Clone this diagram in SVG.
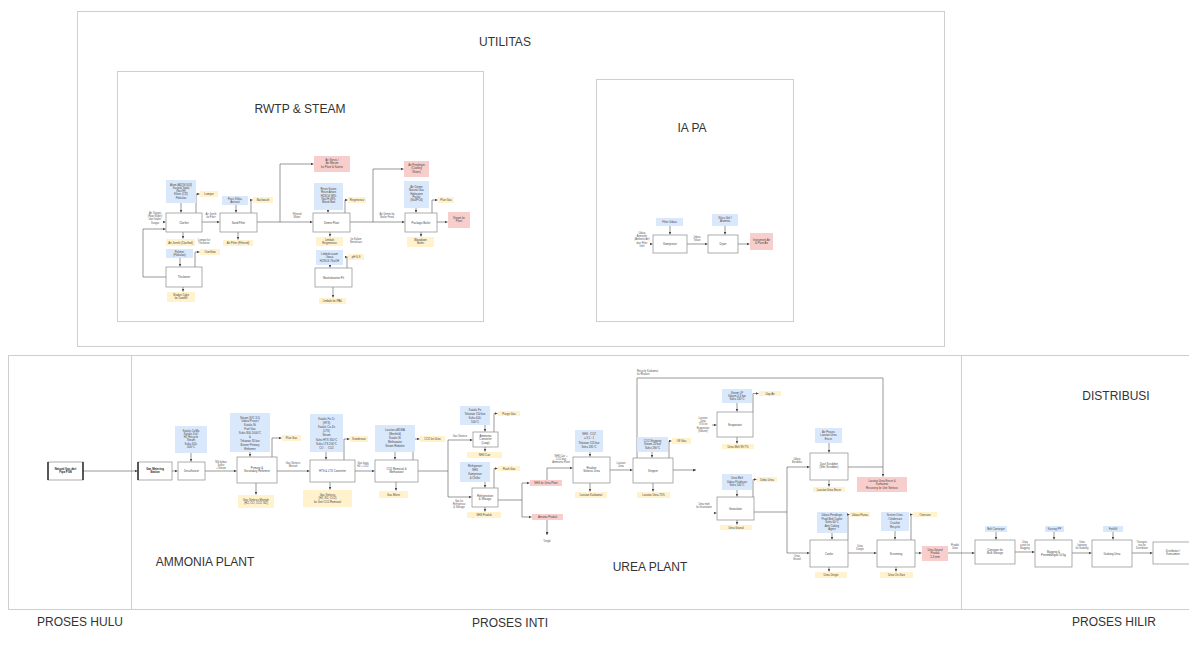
<svg xmlns="http://www.w3.org/2000/svg" width="1189" height="655" viewBox="0 0 1189 655">
<style>
.bg{fill:#ffffff}
.frame{fill:none;stroke:#cfcfcf;stroke-width:1}
.box{fill:#ffffff;stroke:#8a8a8a;stroke-width:0.7}
.blue{fill:#dae8fc;stroke:none}
.yel{fill:#fff2cc;stroke:none}
.red{fill:#f8cecc;stroke:none}
.bar{stroke:#222;stroke-width:1.4}
.title{font-family:"Liberation Sans",Arial,sans-serif;font-size:12px;fill:#333;text-anchor:middle}
.t{font-family:"Liberation Sans",Arial,sans-serif;font-size:2.8px;fill:#444;text-anchor:middle}
.tb{font-family:"Liberation Sans",Arial,sans-serif;font-size:2.8px;fill:#222;font-weight:bold;text-anchor:middle}
.lab{font-family:"Liberation Sans",Arial,sans-serif;font-size:2.6px;fill:#555;text-anchor:middle}
.c{fill:none;stroke:#555;stroke-width:0.6}
.ca{fill:none;stroke:#555;stroke-width:0.6;marker-end:url(#ah)}
</style>
<defs>
<marker id="ah" viewBox="0 0 6 6" refX="6" refY="3" markerWidth="3" markerHeight="3" orient="auto" markerUnits="userSpaceOnUse"><path d="M0,0 L6,3 L0,6 z" fill="#444"/></marker>
</defs>
<rect class="bg" x="0" y="0" width="1189" height="655"/>

<g id="frames">
<rect class="frame" x="77.5" y="11.5" width="867" height="335"/>
<rect class="frame" x="117.5" y="71.5" width="366" height="250"/>
<rect class="frame" x="596.5" y="79.5" width="197" height="242"/>
<rect class="frame" x="8.5" y="355.5" width="1190" height="254"/>
<line class="frame" x1="131.5" y1="355.5" x2="131.5" y2="609.5"/>
<line class="frame" x1="961.5" y1="355.5" x2="961.5" y2="609.5"/>
</g>

<g id="titles">
<text class="title" x="505" y="46">UTILITAS</text>
<text class="title" x="300" y="113">RWTP &amp; STEAM</text>
<text class="title" x="692" y="132">IA PA</text>
<text class="title" x="1116" y="400">DISTRIBUSI</text>
<text class="title" x="205" y="566">AMMONIA PLANT</text>
<text class="title" x="650" y="571">UREA PLANT</text>
<text class="title" x="80" y="626">PROSES HULU</text>
<text class="title" x="510" y="627">PROSES INTI</text>
<text class="title" x="1114" y="626">PROSES HILIR</text>
</g>

<g id="connectors">
<!-- RWTP -->
<path class="ca" d="M166,277 H143 V229 H165.5"/>
<path class="ca" d="M163,222 H165.5"/>
<path class="ca" d="M181,203 V212.5"/>
<path class="ca" d="M196,213 V194 H199.5"/>
<path class="ca" d="M183,232 V238.5"/>
<path class="ca" d="M202,222 H219.5"/>
<path class="ca" d="M236,205 V212.5"/>
<path class="ca" d="M251,213 V200 H252.5"/>
<path class="ca" d="M238,232 V239.5"/>
<path class="ca" d="M180,258 V266.5"/>
<path class="ca" d="M195,267 V252 H199.5"/>
<path class="ca" d="M183,287 V291.5"/>
<path class="ca" d="M257,222 H312.5"/>
<path class="ca" d="M280,222 V164 H313.5"/>
<path class="ca" d="M328,210 V212.5"/>
<path class="ca" d="M345,213 V200 H347.5"/>
<path class="ca" d="M330,232 V236.5"/>
<path class="ca" d="M330,265 V267.5"/>
<path class="ca" d="M347,268 V257 H347.5"/>
<path class="ca" d="M333,287 V297.5"/>
<path class="ca" d="M350,222 H404.5"/>
<path class="ca" d="M373,222 V169 H403.5"/>
<path class="ca" d="M416,208 V212.5"/>
<path class="ca" d="M432,213 V200 H437.5"/>
<path class="ca" d="M437,222 H447.5"/>
<path class="ca" d="M421,232 V236.5"/>
<!-- IA PA -->
<path class="ca" d="M650,244 H652.5"/>
<path class="ca" d="M670,226 V234.5"/>
<path class="ca" d="M687,244 H707.5"/>
<path class="ca" d="M725,226 V234.5"/>
<path class="ca" d="M738,244 H749.5"/>
<!-- Ammonia -->
<path class="ca" d="M83,471 H137.5"/>
<path class="ca" d="M172,471 H177.5"/>
<path class="ca" d="M191,453 V461.5"/>
<path class="ca" d="M205,471 H236.5"/>
<path class="ca" d="M250,452 V456.5"/>
<path class="ca" d="M272,457 V438 H281.5"/>
<path class="ca" d="M256,483 V494.5"/>
<path class="ca" d="M277,471 H309.5"/>
<path class="ca" d="M326,452 V459.5"/>
<path class="ca" d="M344,460 V439 H349.5"/>
<path class="ca" d="M330,482 V489.5"/>
<path class="ca" d="M355,471 H374.5"/>
<path class="ca" d="M395,452 V459.5"/>
<path class="ca" d="M413,460 V439 H419.5"/>
<path class="ca" d="M396,482 V490.5"/>
<path class="c" d="M418,471 H448"/>
<path class="ca" d="M448,471 V440 H472.5"/>
<path class="ca" d="M448,471 V497 H471.5"/>
<!-- Urea -->
<path class="ca" d="M485,425 V431.5"/>
<path class="ca" d="M494,432 V413.5 H497.5"/>
<path class="ca" d="M485,447 V451.5"/>
<path class="ca" d="M485,482 V487.5"/>
<path class="ca" d="M494,488 V468.5 H497.5"/>
<path class="ca" d="M485,507 V511.5"/>
<path class="ca" d="M498,500 H522 V483 H529.5"/>
<path class="ca" d="M522,500 V517 H531.5"/>
<path class="ca" d="M547,520 V535"/>
<path class="ca" d="M547,480 V468 H572.5"/>
<path class="ca" d="M590,452 V456.5"/>
<path class="ca" d="M590,483 V491.5"/>
<path class="ca" d="M610,470 H632.5"/>
<path class="ca" d="M652,452 V457.5"/>
<path class="ca" d="M669,458 V441 H671.5"/>
<path class="ca" d="M653,483 V491.5"/>
<path class="ca" d="M637,458 V378 H883 V476.5"/>
<path class="ca" d="M673,470 H696"/>
<path class="ca" d="M712,425 H716.5"/>
<path class="ca" d="M737,403 V411.5"/>
<path class="ca" d="M753,412 V393.5 H758.5"/>
<path class="ca" d="M737,437 V443.5"/>
<path class="ca" d="M714,513 H716.5"/>
<path class="ca" d="M737,490 V496.5"/>
<path class="ca" d="M753,497 V479.5 H756.5"/>
<path class="ca" d="M737,520 V524.5"/>
<path class="c" d="M754,512 H787"/>
<path class="c" d="M787,467 V553"/>
<path class="ca" d="M787,467 H809.5"/>
<path class="ca" d="M787,553 H809.5"/>
<path class="ca" d="M829,443 V452.5"/>
<path class="ca" d="M829,480 V486.5"/>
<path class="c" d="M848,467 H883"/>
<path class="ca" d="M832,533 V539.5"/>
<path class="ca" d="M848,540 V514.5 H849.5"/>
<path class="ca" d="M829,567 V571.5"/>
<path class="ca" d="M848,553 H876.5"/>
<path class="ca" d="M895,531 V539.5"/>
<path class="ca" d="M911,540 V514.5 H912.5"/>
<path class="ca" d="M896,567 V571.5"/>
<path class="ca" d="M915,553 H921.5"/>
<path class="ca" d="M948,553 H974.5"/>
<!-- Distribusi -->
<path class="ca" d="M996,532 V539.5"/>
<path class="ca" d="M1015,552 H1034.5"/>
<path class="ca" d="M1054,532 V539.5"/>
<path class="ca" d="M1072,553 H1091.5"/>
<path class="ca" d="M1113,532 V539.5"/>
<path class="ca" d="M1132,553 H1152.5"/>
</g>

<g id="edge-labels">
<text class="lab" x="155" y="214"><tspan x="155">Air Sungai</tspan><tspan x="155" dy="3.2">(Raw Water)</tspan><tspan x="155" dy="3.2">dari Intake</tspan><tspan x="155" dy="3.2">Sungai</tspan></text>
<text class="lab" x="211" y="215"><tspan x="211">Air Jernih</tspan><tspan x="211" dy="3.2">ke Filter</tspan></text>
<text class="lab" x="204" y="240.5"><tspan x="204">Lumpur ke</tspan><tspan x="204" dy="3.2">Thickener</tspan></text>
<text class="lab" x="297" y="214.5"><tspan x="297">Filtered</tspan><tspan x="297" dy="3.2">Water</tspan></text>
<text class="lab" x="356" y="240"><tspan x="356">ke Kolam</tspan><tspan x="356" dy="3.2">Netralisasi</tspan></text>
<text class="lab" x="387" y="214.5"><tspan x="387">Air Demin ke</tspan><tspan x="387" dy="3.2">Boiler Feed</tspan></text>
<text class="lab" x="642" y="234"><tspan x="642">Udara</tspan><tspan x="642" dy="3.2">Atmosfer</tspan><tspan x="642" dy="3.2">(Ambient Air)</tspan><tspan x="642" dy="3.2">dari Filter</tspan><tspan x="642" dy="3.2">Inlet</tspan></text>
<text class="lab" x="697" y="237.5"><tspan x="697">Udara</tspan><tspan x="697" dy="3.2">Tekan</tspan></text>
<text class="lab" x="221" y="463"><tspan x="221">NG bebas</tspan><tspan x="221" dy="3.2">Sulfur</tspan><tspan x="221" dy="3.2">+ Steam</tspan></text>
<text class="lab" x="293" y="464"><tspan x="293">Gas Sintesis</tspan><tspan x="293" dy="3.2">Mentah</tspan></text>
<text class="lab" x="363" y="464"><tspan x="363">Gas kaya</tspan><tspan x="363" dy="3.2">H2 + CO2</tspan></text>
<text class="lab" x="460" y="437">Gas Sintesis</text>
<text class="lab" x="459" y="502"><tspan x="459">Gas ke</tspan><tspan x="459" dy="3.2">Refrigerasi</tspan><tspan x="459" dy="3.2">&amp; Storage</tspan></text>
<text class="lab" x="547" y="542">Tangki</text>
<text class="lab" x="561" y="457"><tspan x="561">NH3 Cair +</tspan><tspan x="561" dy="3.2">CO2 dari</tspan><tspan x="561" dy="3.2">Ammonia Plant</tspan></text>
<text class="lab" x="621" y="464"><tspan x="621">Larutan</tspan><tspan x="621" dy="3.2">Urea</tspan></text>
<text class="lab" x="637" y="371.5" style="text-anchor:start"><tspan x="637">Recycle Karbamat</tspan><tspan x="637" dy="3.2">ke Reaktor</tspan></text>
<text class="lab" x="703" y="419"><tspan x="703">Larutan</tspan><tspan x="703" dy="3.2">Urea</tspan><tspan x="703" dy="3.2">75% ke</tspan><tspan x="703" dy="3.2">Evaporator</tspan><tspan x="703" dy="3.2">(Vakum)</tspan></text>
<text class="lab" x="704" y="505"><tspan x="704">Urea melt</tspan><tspan x="704" dy="3.2">ke Granulator</tspan></text>
<text class="lab" x="797" y="460"><tspan x="797">Udara</tspan><tspan x="797" dy="3.2">Berdebu</tspan></text>
<text class="lab" x="797" y="557"><tspan x="797">Urea</tspan><tspan x="797" dy="3.2">Granul</tspan></text>
<text class="lab" x="860" y="547"><tspan x="860">Urea</tspan><tspan x="860" dy="3.2">Dingin</tspan></text>
<text class="lab" x="955" y="546"><tspan x="955">Produk</tspan><tspan x="955" dy="3.2">Urea</tspan></text>
<text class="lab" x="1025" y="543"><tspan x="1025">Urea</tspan><tspan x="1025" dy="3.2">curah ke</tspan><tspan x="1025" dy="3.2">Bagging</tspan></text>
<text class="lab" x="1082" y="543"><tspan x="1082">Urea</tspan><tspan x="1082" dy="3.2">kantong</tspan><tspan x="1082" dy="3.2">ke Gudang</tspan></text>
<text class="lab" x="1142" y="543"><tspan x="1142">Transpor-</tspan><tspan x="1142" dy="3.2">tasi ke</tspan><tspan x="1142" dy="3.2">Distributor</tspan></text>
</g>

<!-- RWTP nodes -->
<g id="rwtp-clarifier"><rect class="box" x="166" y="213" width="36" height="19"/><text class="t" x="184" y="223.5">Clarifier</text></g>
<g id="rwtp-clarifier-in"><rect class="blue" x="166" y="180" width="30" height="23"/><text class="t" x="181" y="185.5"><tspan x="181">Alum (Al2(SO4)3)</tspan><tspan x="181" dy="3.3">Kaustik Soda</tspan><tspan x="181" dy="3.3">(NaOH)</tspan><tspan x="181" dy="3.3">Klorin (Cl2)</tspan><tspan x="181" dy="3.3">Flokulan</tspan></text></g>
<g id="rwtp-clarifier-side"><rect class="yel" x="200" y="191" width="18" height="6"/><text class="t" x="209" y="195">Lumpur</text></g>
<g id="rwtp-clarifier-out"><rect class="yel" x="166" y="239" width="29" height="7"/><text class="t" x="180.5" y="243.5">Air Jernih (Clarified)</text></g>
<g id="rwtp-filter"><rect class="box" x="220" y="213" width="37" height="19"/><text class="t" x="238.5" y="223.5">Sand Filter</text></g>
<g id="rwtp-filter-in"><rect class="blue" x="222" y="196" width="26" height="9"/><text class="t" x="235" y="199.8"><tspan x="235">Pasir Silika,</tspan><tspan x="235" dy="3.3">Antrasit</tspan></text></g>
<g id="rwtp-filter-side"><rect class="yel" x="253" y="197" width="20" height="6"/><text class="t" x="263" y="201">Backwash</text></g>
<g id="rwtp-filter-out"><rect class="yel" x="223" y="240" width="30" height="6"/><text class="t" x="238" y="244">Air Filter (Filtered)</text></g>
<g id="rwtp-thickener-in"><rect class="blue" x="166" y="249" width="27" height="9"/><text class="t" x="179.5" y="252.8"><tspan x="179.5">Polimer</tspan><tspan x="179.5" dy="3.3">(Flokulan)</tspan></text></g>
<g id="rwtp-thickener-side"><rect class="yel" x="200" y="249" width="20" height="6"/><text class="t" x="210" y="253">Overflow</text></g>
<g id="rwtp-thickener"><rect class="box" x="166" y="267" width="36" height="20"/><text class="t" x="184" y="278">Thickener</text></g>
<g id="rwtp-thickener-out"><rect class="yel" x="167" y="292" width="28" height="10"/><text class="t" x="181" y="296"><tspan x="181">Sludge Cake</tspan><tspan x="181" dy="3.3">ke Landfill</tspan></text></g>
<g id="rwtp-service"><rect class="red" x="314" y="156" width="36" height="16"/><text class="t" x="332" y="161"><tspan x="332">Air Servis /</tspan><tspan x="332" dy="3.3">Air Minum</tspan><tspan x="332" dy="3.3">ke Plant &amp; Kantor</tspan></text></g>
<g id="rwtp-demin-in"><rect class="blue" x="314" y="183" width="29" height="27"/><text class="t" x="328.5" y="190"><tspan x="328.5">Resin Kation</tspan><tspan x="328.5" dy="3.3">Resin Anion</tspan><tspan x="328.5" dy="3.3">H2SO4 98%</tspan><tspan x="328.5" dy="3.3">NaOH 48%</tspan><tspan x="328.5" dy="3.3">Mixed Bed</tspan></text></g>
<g id="rwtp-demin-side"><rect class="yel" x="348" y="197" width="18" height="6"/><text class="t" x="357" y="201">Regenerasi</text></g>
<g id="rwtp-demin"><rect class="box" x="313" y="213" width="37" height="19"/><text class="t" x="331.5" y="223.5">Demin Plant</text></g>
<g id="rwtp-demin-out"><rect class="yel" x="316" y="237" width="27" height="9"/><text class="t" x="329.5" y="240.8"><tspan x="329.5">Limbah</tspan><tspan x="329.5" dy="3.3">Regenerasi</tspan></text></g>
<g id="rwtp-neutral-in"><rect class="blue" x="316" y="250" width="27" height="15"/><text class="t" x="329.5" y="255"><tspan x="329.5">Limbah asam</tspan><tspan x="329.5" dy="3.3">/ basa</tspan><tspan x="329.5" dy="3.3">H2SO4 / NaOH</tspan></text></g>
<g id="rwtp-neutral-side"><rect class="yel" x="348" y="254" width="16" height="6"/><text class="t" x="356" y="258">pH 6-9</text></g>
<g id="rwtp-neutral"><rect class="box" x="315" y="268" width="37" height="19"/><text class="t" x="333.5" y="278.5">Neutralization Pit</text></g>
<g id="rwtp-neutral-out"><rect class="yel" x="319" y="298" width="27" height="6"/><text class="t" x="332.5" y="302">Limbah ke IPAL</text></g>
<g id="rwtp-cooling"><rect class="red" x="404" y="161" width="25" height="16"/><text class="t" x="416.5" y="166"><tspan x="416.5">Air Pendingin</tspan><tspan x="416.5" dy="3.3">(Cooling</tspan><tspan x="416.5" dy="3.3">Water)</tspan></text></g>
<g id="rwtp-boiler-in"><rect class="blue" x="404" y="181" width="25" height="27"/><text class="t" x="416.5" y="188"><tspan x="416.5">Air Demin</tspan><tspan x="416.5" dy="3.3">Natural Gas</tspan><tspan x="416.5" dy="3.3">Hydrazine</tspan><tspan x="416.5" dy="3.3">Fosfat</tspan><tspan x="416.5" dy="3.3">(Na3PO4)</tspan></text></g>
<g id="rwtp-boiler-side"><rect class="yel" x="438" y="197" width="16" height="6"/><text class="t" x="446" y="201">Flue Gas</text></g>
<g id="rwtp-boiler"><rect class="box" x="405" y="213" width="32" height="19"/><text class="t" x="421" y="223.5">Package Boiler</text></g>
<g id="rwtp-steam"><rect class="red" x="448" y="212" width="22" height="16"/><text class="t" x="459" y="219"><tspan x="459">Steam ke</tspan><tspan x="459" dy="3.3">Plant</tspan></text></g>
<g id="rwtp-boiler-out"><rect class="yel" x="407" y="237" width="27" height="10"/><text class="t" x="420.5" y="241"><tspan x="420.5">Blowdown</tspan><tspan x="420.5" dy="3.3">Boiler</tspan></text></g>

<!-- IA PA nodes -->
<g id="iapa-compressor"><rect class="box" x="653" y="235" width="34" height="18"/><text class="t" x="670" y="245">Kompresor</text></g>
<g id="iapa-compressor-in"><rect class="blue" x="656" y="218" width="27" height="8"/><text class="t" x="669.5" y="223">Filter Udara</text></g>
<g id="iapa-dryer"><rect class="box" x="708" y="235" width="30" height="18"/><text class="t" x="723" y="245">Dryer</text></g>
<g id="iapa-dryer-in"><rect class="blue" x="712" y="214" width="26" height="12"/><text class="t" x="725" y="219"><tspan x="725">Silica Gel /</tspan><tspan x="725" dy="3.3">Alumina</tspan></text></g>
<g id="iapa-out"><rect class="red" x="750" y="233" width="23" height="17"/><text class="t" x="761.5" y="241"><tspan x="761.5">Instrument Air</tspan><tspan x="761.5" dy="3.3">&amp; Plant Air</tspan></text></g>

<!-- Ammonia nodes -->
<g id="hulu-gas"><rect class="box" x="48" y="462" width="35" height="18"/><line class="bar" x1="48" y1="462" x2="48" y2="480"/><line class="bar" x1="83" y1="462" x2="83" y2="480"/><text class="tb" x="65.5" y="469.5"><tspan x="65.5">Natural Gas dari</tspan><tspan x="65.5" dy="3.5">Pipa PGN</tspan></text></g>
<g id="amm-metering"><rect class="box" x="138" y="462" width="34" height="18"/><line class="bar" x1="138" y1="462" x2="138" y2="480"/><text class="tb" x="155" y="469.5"><tspan x="155">Gas Metering</tspan><tspan x="155" dy="3.5">Station</tspan></text></g>
<g id="amm-desulf"><rect class="box" x="178" y="462" width="27" height="18"/><text class="t" x="191.5" y="472">Desulfurizer</text></g>
<g id="amm-desulf-in"><rect class="blue" x="175" y="426" width="32" height="27"/><text class="t" x="191" y="431.5"><tspan x="191">Katalis CoMo</tspan><tspan x="191" dy="3.3">Katalis ZnO</tspan><tspan x="191" dy="3.3">H2 Recycle</tspan><tspan x="191" dy="3.3">Steam</tspan><tspan x="191" dy="3.3">Suhu 350-</tspan><tspan x="191" dy="3.3">400°C</tspan></text></g>
<g id="amm-reformer"><rect class="box" x="237" y="457" width="40" height="26"/><text class="t" x="257" y="469"><tspan x="257">Primary &amp;</tspan><tspan x="257" dy="3.3">Secondary Reformer</tspan></text></g>
<g id="amm-reformer-in"><rect class="blue" x="230" y="413" width="40" height="39"/><text class="t" x="250" y="418.5"><tspan x="250">Steam (S/C 3,5)</tspan><tspan x="250" dy="3.9">Udara Proses</tspan><tspan x="250" dy="3.9">Katalis Ni</tspan><tspan x="250" dy="3.9">Fuel Gas</tspan><tspan x="250" dy="3.9">Suhu 800-1000°C</tspan><tspan x="250" dy="3.9">&amp;</tspan><tspan x="250" dy="3.9">Tekanan 35 bar</tspan><tspan x="250" dy="3.9">Burner Primary</tspan><tspan x="250" dy="3.9">Reformer</tspan></text></g>
<g id="amm-reformer-side"><rect class="yel" x="282" y="435" width="19" height="6"/><text class="t" x="291.5" y="439">Flue Gas</text></g>
<g id="amm-reformer-out"><rect class="yel" x="238" y="495" width="36" height="13"/><text class="t" x="256" y="500.5"><tspan x="256">Gas Sintesis Mentah</tspan><tspan x="256" dy="3.5">(H2, CO, CO2, N2)</tspan></text></g>
<g id="amm-shift-in"><rect class="blue" x="310" y="414" width="33" height="38"/><text class="t" x="326.5" y="419.5"><tspan x="326.5">Katalis Fe-Cr</tspan><tspan x="326.5" dy="4.2">(HTS)</tspan><tspan x="326.5" dy="4.2">Katalis Cu-Zn</tspan><tspan x="326.5" dy="4.2">(LTS)</tspan><tspan x="326.5" dy="4.2">Steam</tspan><tspan x="326.5" dy="4.2">Suhu HTS 350°C</tspan><tspan x="326.5" dy="4.2">Suhu LTS 200°C</tspan><tspan x="326.5" dy="4.2">CO → CO2</tspan></text></g>
<g id="amm-shift-side"><rect class="yel" x="350" y="436" width="18" height="6"/><text class="t" x="359" y="440">Kondensat</text></g>
<g id="amm-shift"><rect class="box" x="310" y="460" width="45" height="22"/><text class="t" x="332.5" y="472">HTS &amp; LTS Converter</text></g>
<g id="amm-shift-out"><rect class="yel" x="303" y="490" width="49" height="17"/><text class="t" x="327.5" y="495.5"><tspan x="327.5">Gas Sintesis</tspan><tspan x="327.5" dy="3.8">(H2, N2, CO2)</tspan><tspan x="327.5" dy="3.8">ke Unit CO2 Removal</tspan></text></g>
<g id="amm-co2-in"><rect class="blue" x="375" y="425" width="40" height="27"/><text class="t" x="395" y="430.5"><tspan x="395">Larutan aMDEA</tspan><tspan x="395" dy="4">(Benfield)</tspan><tspan x="395" dy="4">Katalis Ni</tspan><tspan x="395" dy="4">Methanator</tspan><tspan x="395" dy="4">Steam Reboiler</tspan></text></g>
<g id="amm-co2-side"><rect class="yel" x="420" y="436" width="25" height="6"/><text class="t" x="432.5" y="440">CO2 ke Urea</text></g>
<g id="amm-co2"><rect class="box" x="375" y="460" width="43" height="22"/><text class="t" x="396.5" y="470"><tspan x="396.5">CO2 Removal &amp;</tspan><tspan x="396.5" dy="3.3">Methanator</tspan></text></g>
<g id="amm-co2-out"><rect class="yel" x="379" y="491" width="29" height="7"/><text class="t" x="393.5" y="495.5">Gas Murni</text></g>

<!-- Ammonia synthesis / Urea nodes -->
<g id="nh3-conv-in"><rect class="blue" x="460" y="406" width="30" height="19"/><text class="t" x="475" y="410.5"><tspan x="475">Katalis Fe</tspan><tspan x="475" dy="4">Tekanan 150 bar</tspan><tspan x="475" dy="4">Suhu 400-</tspan><tspan x="475" dy="4">500°C</tspan></text></g>
<g id="nh3-conv-side"><rect class="yel" x="498" y="411" width="22" height="5"/><text class="t" x="509" y="414.5">Purge Gas</text></g>
<g id="nh3-conv"><rect class="box" x="473" y="432" width="25" height="15"/><text class="t" x="485.5" y="437"><tspan x="485.5">Ammonia</tspan><tspan x="485.5" dy="3.3">Converter</tspan><tspan x="485.5" dy="3.3">(Loop)</tspan></text></g>
<g id="nh3-conv-out"><rect class="yel" x="467" y="452" width="35" height="6"/><text class="t" x="484.5" y="456">NH3 Cair</text></g>
<g id="nh3-ref-in"><rect class="blue" x="460" y="462" width="30" height="20"/><text class="t" x="475" y="466.5"><tspan x="475">Refrigerant</tspan><tspan x="475" dy="4.2">NH3</tspan><tspan x="475" dy="4.2">Kompresor</tspan><tspan x="475" dy="4.2">&amp; Chiller</tspan></text></g>
<g id="nh3-ref-side"><rect class="yel" x="498" y="466" width="22" height="5"/><text class="t" x="509" y="469.5">Flash Gas</text></g>
<g id="nh3-ref"><rect class="box" x="472" y="488" width="26" height="19"/><text class="t" x="485" y="496.5"><tspan x="485">Refrigeration</tspan><tspan x="485" dy="3.3">&amp; Storage</tspan></text></g>
<g id="nh3-ref-out"><rect class="yel" x="467" y="512" width="34" height="6"/><text class="t" x="484" y="516">NH3 Produk</text></g>
<g id="nh3-to-urea"><rect class="red" x="530" y="480" width="32" height="6"/><text class="t" x="546" y="484">NH3 ke Urea Plant</text></g>
<g id="nh3-product"><rect class="red" x="532" y="514" width="31" height="6"/><text class="t" x="547.5" y="518">Amonia Produk</text></g>
<g id="urea-reactor-in"><rect class="blue" x="575" y="430" width="28" height="22"/><text class="t" x="589" y="435"><tspan x="589">NH3 : CO2</tspan><tspan x="589" dy="4.3">= 3,5 : 1</tspan><tspan x="589" dy="4.3">Tekanan 155 bar</tspan><tspan x="589" dy="4.3">Suhu 185°C</tspan></text></g>
<g id="urea-reactor"><rect class="box" x="573" y="457" width="37" height="26"/><text class="t" x="591.5" y="469"><tspan x="591.5">Reaktor</tspan><tspan x="591.5" dy="3.3">Sintesis Urea</tspan></text></g>
<g id="urea-reactor-out"><rect class="yel" x="575" y="492" width="32" height="6"/><text class="t" x="591" y="496">Larutan Karbamat</text></g>
<g id="urea-stripper-in"><rect class="blue" x="637" y="437" width="31" height="15"/><text class="t" x="652.5" y="441.5"><tspan x="652.5">CO2 Stripping</tspan><tspan x="652.5" dy="3.6">Steam 20 bar</tspan><tspan x="652.5" dy="3.6">Suhu 190°C</tspan></text></g>
<g id="urea-stripper-side"><rect class="yel" x="672" y="438" width="19" height="6"/><text class="t" x="681.5" y="442">Off Gas</text></g>
<g id="urea-stripper"><rect class="box" x="633" y="458" width="40" height="25"/><text class="t" x="653" y="471.5">Stripper</text></g>
<g id="urea-stripper-out"><rect class="yel" x="637" y="492" width="33" height="6"/><text class="t" x="653.5" y="496">Larutan Urea 75%</text></g>
<g id="urea-evap-in"><rect class="blue" x="722" y="389" width="30" height="14"/><text class="t" x="737" y="393.5"><tspan x="737">Steam LP</tspan><tspan x="737" dy="3.4">Vakum 0,3 bar</tspan><tspan x="737" dy="3.4">Suhu 130°C</tspan></text></g>
<g id="urea-evap-side"><rect class="yel" x="759" y="391" width="22" height="5"/><text class="t" x="770" y="394.5">Uap Air</text></g>
<g id="urea-evap"><rect class="box" x="717" y="412" width="36" height="25"/><text class="t" x="735" y="425.5">Evaporator</text></g>
<g id="urea-evap-out"><rect class="yel" x="722" y="444" width="32" height="5"/><text class="t" x="738" y="447.5">Urea Melt 99,7%</text></g>
<g id="urea-gran-in"><rect class="blue" x="722" y="474" width="30" height="16"/><text class="t" x="737" y="479"><tspan x="737">Urea Melt</tspan><tspan x="737" dy="3.6">Udara Fluidisasi</tspan><tspan x="737" dy="3.6">Suhu 140°C</tspan></text></g>
<g id="urea-gran-side"><rect class="yel" x="757" y="477" width="20" height="5"/><text class="t" x="767" y="480.5">Debu Urea</text></g>
<g id="urea-gran"><rect class="box" x="717" y="497" width="37" height="23"/><text class="t" x="735.5" y="509.5">Granulator</text></g>
<g id="urea-gran-out"><rect class="yel" x="720" y="525" width="32" height="5"/><text class="t" x="736" y="528.5">Urea Granul</text></g>
<g id="urea-scrub-in"><rect class="blue" x="815" y="428" width="27" height="15"/><text class="t" x="828.5" y="432.5"><tspan x="828.5">Air Proses</tspan><tspan x="828.5" dy="3.6">Larutan Urea</tspan><tspan x="828.5" dy="3.6">Encer</tspan></text></g>
<g id="urea-scrub"><rect class="box" x="810" y="453" width="38" height="27"/><text class="t" x="829" y="465"><tspan x="829">Dust Scrubber</tspan><tspan x="829" dy="3.3">(Wet Scrubber)</tspan></text></g>
<g id="urea-scrub-out"><rect class="yel" x="813" y="487" width="32" height="5"/><text class="t" x="829" y="490.5">Larutan Urea Encer</text></g>
<g id="urea-recovery"><rect class="red" x="857" y="477" width="50" height="15"/><text class="t" x="882" y="481.5"><tspan x="882">Larutan Urea Encer &amp;</tspan><tspan x="882" dy="3.6">Karbamat</tspan><tspan x="882" dy="3.6">Recovery ke Unit Sintesis</tspan></text></g>
<g id="urea-cool-in"><rect class="blue" x="817" y="512" width="30" height="21"/><text class="t" x="832" y="516"><tspan x="832">Udara Pendingin</tspan><tspan x="832" dy="3.6">Fluid Bed Cooler</tspan><tspan x="832" dy="3.6">Suhu 60°C</tspan><tspan x="832" dy="3.6">Anti Caking</tspan><tspan x="832" dy="3.6">Agent</tspan></text></g>
<g id="urea-cool-side"><rect class="yel" x="850" y="512" width="20" height="5"/><text class="t" x="860" y="515.5">Udara Panas</text></g>
<g id="urea-cool"><rect class="box" x="810" y="540" width="38" height="27"/><text class="t" x="829" y="554.5">Cooler</text></g>
<g id="urea-cool-out"><rect class="yel" x="815" y="572" width="32" height="6"/><text class="t" x="831" y="576">Urea Dingin</text></g>
<g id="urea-screen-in"><rect class="blue" x="881" y="512" width="28" height="19"/><text class="t" x="895" y="516"><tspan x="895">Screen Over-</tspan><tspan x="895" dy="4">/ Undersize</tspan><tspan x="895" dy="4">Crusher</tspan><tspan x="895" dy="4">Recycle</tspan></text></g>
<g id="urea-screen-side"><rect class="yel" x="913" y="512" width="24" height="5"/><text class="t" x="925" y="515.5">Oversize</text></g>
<g id="urea-screen"><rect class="box" x="877" y="540" width="38" height="27"/><text class="t" x="896" y="554.5">Screening</text></g>
<g id="urea-screen-out"><rect class="yel" x="880" y="572" width="33" height="6"/><text class="t" x="896.5" y="576">Urea On-Size</text></g>
<g id="urea-product"><rect class="red" x="922" y="546" width="26" height="15"/><text class="t" x="935" y="550.5"><tspan x="935">Urea Granul</tspan><tspan x="935" dy="3.5">Produk</tspan><tspan x="935" dy="3.5">2-4 mm</tspan></text></g>

<!-- Distribusi nodes -->
<g id="dist-conveyor-in"><rect class="blue" x="985" y="526" width="22" height="6"/><text class="t" x="996" y="530">Belt Conveyor</text></g>
<g id="dist-conveyor"><rect class="box" x="975" y="540" width="40" height="24"/><text class="t" x="995" y="551"><tspan x="995">Conveyor ke</tspan><tspan x="995" dy="3.3">Bulk Storage</tspan></text></g>
<g id="dist-bagging-in"><rect class="blue" x="1045" y="526" width="19" height="6"/><text class="t" x="1054.5" y="530">Karung PP</text></g>
<g id="dist-bagging"><rect class="box" x="1035" y="540" width="37" height="27"/><text class="t" x="1053.5" y="552.5"><tspan x="1053.5">Bagging &amp;</tspan><tspan x="1053.5" dy="3.3">Penimbangan 50 kg</tspan></text></g>
<g id="dist-gudang-in"><rect class="blue" x="1103" y="526" width="20" height="6"/><text class="t" x="1113" y="530">Forklift</text></g>
<g id="dist-gudang"><rect class="box" x="1092" y="540" width="40" height="27"/><text class="t" x="1112" y="554.5">Gudang Urea</text></g>
<g id="dist-konsumen"><rect class="box" x="1153" y="542" width="40" height="22"/><text class="t" x="1173" y="552"><tspan x="1173">Distributor /</tspan><tspan x="1173" dy="3.3">Konsumen</tspan></text></g>
</svg>
